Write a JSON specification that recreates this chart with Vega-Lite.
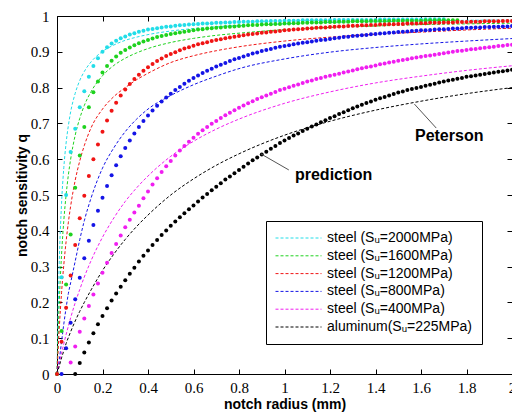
{
  "$schema": "https://vega.github.io/schema/vega-lite/v6.json",
  "width": 455,
  "height": 358,
  "autosize": "none",
  "padding": {"left": 57, "top": 16, "right": 0, "bottom": 40},
  "background": "white",
  "datasets": {
    "dashed": [
      {"r": 0, "c": 0, "g": 0, "rd": 0, "b": 0, "m": 0, "k": 0},
      {"r": 0.01, "c": 0.3125, "g": 0.2, "rd": 0.128, "b": 0.04, "m": 0.03, "k": 0.022},
      {"r": 0.02, "c": 0.476, "g": 0.333, "rd": 0.227, "b": 0.09, "m": 0.058, "k": 0.045},
      {"r": 0.03, "c": 0.577, "g": 0.429, "rd": 0.306, "b": 0.14, "m": 0.085, "k": 0.065},
      {"r": 0.04, "c": 0.645, "g": 0.5, "rd": 0.37, "b": 0.185, "m": 0.11, "k": 0.085},
      {"r": 0.05, "c": 0.694, "g": 0.556, "rd": 0.424, "b": 0.225, "m": 0.134, "k": 0.102},
      {"r": 0.06, "c": 0.732, "g": 0.6, "rd": 0.469, "b": 0.255, "m": 0.157, "k": 0.118},
      {"r": 0.08, "c": 0.784, "g": 0.667, "rd": 0.541, "b": 0.315, "m": 0.199, "k": 0.148},
      {"r": 0.1, "c": 0.82, "g": 0.714, "rd": 0.595, "b": 0.375, "m": 0.236, "k": 0.175},
      {"r": 0.12, "c": 0.845, "g": 0.75, "rd": 0.638, "b": 0.428, "m": 0.271, "k": 0.2},
      {"r": 0.15, "c": 0.872, "g": 0.789, "rd": 0.688, "b": 0.492, "m": 0.317, "k": 0.235},
      {"r": 0.2, "c": 0.901, "g": 0.833, "rd": 0.74, "b": 0.575, "m": 0.382, "k": 0.289},
      {"r": 0.25, "c": 0.919, "g": 0.862, "rd": 0.775, "b": 0.632, "m": 0.436, "k": 0.335},
      {"r": 0.3, "c": 0.932, "g": 0.882, "rd": 0.8, "b": 0.677, "m": 0.482, "k": 0.376},
      {"r": 0.35, "c": 0.941, "g": 0.897, "rd": 0.822, "b": 0.712, "m": 0.52, "k": 0.412},
      {"r": 0.4, "c": 0.948, "g": 0.909, "rd": 0.84, "b": 0.74, "m": 0.553, "k": 0.444},
      {"r": 0.5, "c": 0.958, "g": 0.926, "rd": 0.87, "b": 0.778, "m": 0.608, "k": 0.5},
      {"r": 0.6, "c": 0.965, "g": 0.9375, "rd": 0.889, "b": 0.808, "m": 0.65, "k": 0.545},
      {"r": 0.7, "c": 0.97, "g": 0.946, "rd": 0.903, "b": 0.832, "m": 0.684, "k": 0.583},
      {"r": 0.8, "c": 0.973, "g": 0.952, "rd": 0.914, "b": 0.853, "m": 0.712, "k": 0.615},
      {"r": 1.0, "c": 0.978, "g": 0.962, "rd": 0.93, "b": 0.88, "m": 0.756, "k": 0.667},
      {"r": 1.2, "c": 0.982, "g": 0.968, "rd": 0.941, "b": 0.899, "m": 0.788, "k": 0.706},
      {"r": 1.4, "c": 0.984, "g": 0.972, "rd": 0.949, "b": 0.912, "m": 0.813, "k": 0.737},
      {"r": 1.6, "c": 0.986, "g": 0.976, "rd": 0.955, "b": 0.922, "m": 0.832, "k": 0.762},
      {"r": 1.8, "c": 0.988, "g": 0.978, "rd": 0.961, "b": 0.93, "m": 0.848, "k": 0.783},
      {"r": 2.0, "c": 0.989, "g": 0.98, "rd": 0.966, "b": 0.937, "m": 0.861, "k": 0.8}
    ],
    "dots": [
      {"r": 0, "c": 0, "g": 0, "rd": 0},
      {"r": 0.02, "c": 0.27, "g": 0.12, "rd": 0.09, "b": 0},
      {"r": 0.04, "c": 0.5, "g": 0.25, "rd": 0.185, "b": 0.072},
      {"r": 0.06, "c": 0.62, "g": 0.39, "rd": 0.275, "b": 0.143, "m": 0.032},
      {"r": 0.08, "c": 0.685, "g": 0.52, "rd": 0.36, "b": 0.209, "m": 0.077, "k": 0},
      {"r": 0.1, "c": 0.745, "g": 0.61, "rd": 0.435, "b": 0.269, "m": 0.118, "k": 0.031},
      {"r": 0.12, "c": 0.79, "g": 0.69, "rd": 0.498, "b": 0.323, "m": 0.155, "k": 0.06},
      {"r": 0.14, "c": 0.83, "g": 0.745, "rd": 0.553, "b": 0.372, "m": 0.19, "k": 0.088},
      {"r": 0.16, "c": 0.86, "g": 0.787, "rd": 0.6, "b": 0.416, "m": 0.222, "k": 0.114},
      {"r": 0.18, "c": 0.882, "g": 0.817, "rd": 0.641, "b": 0.456, "m": 0.253, "k": 0.139},
      {"r": 0.2, "c": 0.9, "g": 0.842, "rd": 0.677, "b": 0.492, "m": 0.283, "k": 0.162},
      {"r": 0.22, "c": 0.913, "g": 0.86, "rd": 0.708, "b": 0.525, "m": 0.311, "k": 0.184},
      {"r": 0.24, "c": 0.923, "g": 0.875, "rd": 0.735, "b": 0.555, "m": 0.338, "k": 0.205},
      {"r": 0.26, "c": 0.931, "g": 0.887, "rd": 0.758, "b": 0.583, "m": 0.363, "k": 0.225},
      {"r": 0.28, "c": 0.938, "g": 0.897, "rd": 0.778, "b": 0.608, "m": 0.387, "k": 0.244},
      {"r": 0.3, "c": 0.943, "g": 0.905, "rd": 0.795, "b": 0.631, "m": 0.41, "k": 0.262},
      {"r": 0.32, "c": 0.948, "g": 0.912, "rd": 0.81, "b": 0.652, "m": 0.431, "k": 0.28},
      {"r": 0.34, "c": 0.952, "g": 0.918, "rd": 0.824, "b": 0.672, "m": 0.451, "k": 0.297},
      {"r": 0.36, "c": 0.956, "g": 0.924, "rd": 0.836, "b": 0.69, "m": 0.47, "k": 0.314},
      {"r": 0.38, "c": 0.959, "g": 0.929, "rd": 0.847, "b": 0.707, "m": 0.491, "k": 0.33},
      {"r": 0.4, "c": 0.962, "g": 0.933, "rd": 0.857, "b": 0.722, "m": 0.51, "k": 0.345},
      {"r": 0.42, "c": 0.964, "g": 0.937, "rd": 0.866, "b": 0.736, "m": 0.529, "k": 0.36},
      {"r": 0.44, "c": 0.966, "g": 0.941, "rd": 0.874, "b": 0.749, "m": 0.547, "k": 0.374},
      {"r": 0.46, "c": 0.968, "g": 0.944, "rd": 0.881, "b": 0.761, "m": 0.564, "k": 0.388},
      {"r": 0.48, "c": 0.97, "g": 0.947, "rd": 0.888, "b": 0.772, "m": 0.58, "k": 0.401},
      {"r": 0.5, "c": 0.971, "g": 0.95, "rd": 0.894, "b": 0.783, "m": 0.595, "k": 0.414},
      {"r": 0.52, "c": 0.973, "g": 0.952, "rd": 0.899, "b": 0.793, "m": 0.61, "k": 0.426},
      {"r": 0.54, "c": 0.974, "g": 0.954, "rd": 0.904, "b": 0.802, "m": 0.624, "k": 0.438},
      {"r": 0.56, "c": 0.975, "g": 0.956, "rd": 0.909, "b": 0.811, "m": 0.637, "k": 0.449},
      {"r": 0.58, "c": 0.976, "g": 0.958, "rd": 0.913, "b": 0.819, "m": 0.649, "k": 0.46},
      {"r": 0.6, "c": 0.977, "g": 0.96, "rd": 0.917, "b": 0.827, "m": 0.66, "k": 0.471},
      {"r": 0.62, "c": 0.978, "g": 0.962, "rd": 0.921, "b": 0.834, "m": 0.671, "k": 0.482},
      {"r": 0.64, "c": 0.979, "g": 0.963, "rd": 0.924, "b": 0.841, "m": 0.681, "k": 0.493},
      {"r": 0.66, "c": 0.979, "g": 0.965, "rd": 0.927, "b": 0.847, "m": 0.69, "k": 0.503},
      {"r": 0.68, "c": 0.98, "g": 0.966, "rd": 0.93, "b": 0.853, "m": 0.699, "k": 0.513},
      {"r": 0.7, "c": 0.981, "g": 0.967, "rd": 0.933, "b": 0.859, "m": 0.707, "k": 0.523},
      {"r": 0.72, "c": 0.981, "g": 0.968, "rd": 0.935, "b": 0.864, "m": 0.715, "k": 0.533},
      {"r": 0.74, "c": 0.982, "g": 0.969, "rd": 0.938, "b": 0.869, "m": 0.723, "k": 0.543},
      {"r": 0.76, "c": 0.982, "g": 0.97, "rd": 0.94, "b": 0.874, "m": 0.73, "k": 0.552},
      {"r": 0.78, "c": 0.983, "g": 0.971, "rd": 0.942, "b": 0.879, "m": 0.737, "k": 0.561},
      {"r": 0.8, "c": 0.983, "g": 0.972, "rd": 0.944, "b": 0.883, "m": 0.744, "k": 0.57},
      {"r": 0.82, "c": 0.984, "g": 0.973, "rd": 0.946, "b": 0.887, "m": 0.75, "k": 0.579},
      {"r": 0.84, "c": 0.984, "g": 0.974, "rd": 0.948, "b": 0.891, "m": 0.756, "k": 0.588},
      {"r": 0.86, "c": 0.984, "g": 0.975, "rd": 0.95, "b": 0.895, "m": 0.762, "k": 0.597},
      {"r": 0.88, "c": 0.985, "g": 0.975, "rd": 0.951, "b": 0.898, "m": 0.768, "k": 0.605},
      {"r": 0.9, "c": 0.985, "g": 0.976, "rd": 0.953, "b": 0.902, "m": 0.773, "k": 0.613},
      {"r": 0.92, "c": 0.985, "g": 0.977, "rd": 0.954, "b": 0.905, "m": 0.778, "k": 0.621},
      {"r": 0.94, "c": 0.986, "g": 0.977, "rd": 0.956, "b": 0.908, "m": 0.783, "k": 0.629},
      {"r": 0.96, "c": 0.986, "g": 0.978, "rd": 0.957, "b": 0.911, "m": 0.788, "k": 0.637},
      {"r": 0.98, "c": 0.986, "g": 0.978, "rd": 0.958, "b": 0.914, "m": 0.793, "k": 0.645},
      {"r": 1.0, "c": 0.987, "g": 0.979, "rd": 0.96, "b": 0.916, "m": 0.797, "k": 0.652},
      {"r": 1.02, "c": 0.987, "g": 0.979, "rd": 0.961, "b": 0.918, "m": 0.801, "k": 0.659},
      {"r": 1.04, "c": 0.987, "g": 0.98, "rd": 0.962, "b": 0.921, "m": 0.805, "k": 0.666},
      {"r": 1.06, "c": 0.987, "g": 0.98, "rd": 0.963, "b": 0.923, "m": 0.809, "k": 0.672},
      {"r": 1.08, "c": 0.988, "g": 0.981, "rd": 0.964, "b": 0.925, "m": 0.813, "k": 0.679},
      {"r": 1.1, "c": 0.988, "g": 0.981, "rd": 0.965, "b": 0.927, "m": 0.817, "k": 0.685},
      {"r": 1.12, "c": 0.988, "g": 0.982, "rd": 0.966, "b": 0.929, "m": 0.82, "k": 0.691},
      {"r": 1.14, "c": 0.988, "g": 0.982, "rd": 0.967, "b": 0.931, "m": 0.824, "k": 0.697},
      {"r": 1.16, "c": 0.988, "g": 0.982, "rd": 0.968, "b": 0.933, "m": 0.827, "k": 0.703},
      {"r": 1.18, "c": 0.988, "g": 0.983, "rd": 0.968, "b": 0.934, "m": 0.83, "k": 0.709},
      {"r": 1.2, "c": 0.988, "g": 0.983, "rd": 0.969, "b": 0.936, "m": 0.833, "k": 0.715},
      {"r": 1.22, "c": 0.989, "g": 0.983, "rd": 0.97, "b": 0.938, "m": 0.836, "k": 0.72},
      {"r": 1.24, "c": 0.989, "g": 0.984, "rd": 0.971, "b": 0.939, "m": 0.839, "k": 0.726},
      {"r": 1.26, "c": 0.989, "g": 0.984, "rd": 0.971, "b": 0.941, "m": 0.842, "k": 0.731},
      {"r": 1.28, "c": 0.989, "g": 0.984, "rd": 0.972, "b": 0.942, "m": 0.845, "k": 0.737},
      {"r": 1.3, "c": 0.989, "g": 0.985, "rd": 0.973, "b": 0.944, "m": 0.848, "k": 0.742},
      {"r": 1.32, "c": 0.989, "g": 0.985, "rd": 0.973, "b": 0.945, "m": 0.851, "k": 0.747},
      {"r": 1.34, "c": 0.989, "g": 0.985, "rd": 0.974, "b": 0.946, "m": 0.854, "k": 0.752},
      {"r": 1.36, "c": 0.989, "g": 0.985, "rd": 0.974, "b": 0.947, "m": 0.857, "k": 0.757},
      {"r": 1.38, "c": 0.989, "g": 0.986, "rd": 0.975, "b": 0.949, "m": 0.859, "k": 0.761},
      {"r": 1.4, "c": 0.989, "g": 0.986, "rd": 0.975, "b": 0.95, "m": 0.862, "k": 0.766},
      {"r": 1.42, "c": 0.99, "g": 0.986, "rd": 0.976, "b": 0.951, "m": 0.865, "k": 0.77},
      {"r": 1.44, "c": 0.99, "g": 0.986, "rd": 0.976, "b": 0.952, "m": 0.867, "k": 0.774},
      {"r": 1.46, "c": 0.99, "g": 0.986, "rd": 0.977, "b": 0.953, "m": 0.87, "k": 0.778},
      {"r": 1.48, "c": 0.99, "g": 0.987, "rd": 0.977, "b": 0.954, "m": 0.872, "k": 0.782},
      {"r": 1.5, "c": 0.99, "g": 0.987, "rd": 0.978, "b": 0.955, "m": 0.875, "k": 0.786},
      {"r": 1.52, "c": 0.99, "g": 0.987, "rd": 0.978, "b": 0.956, "m": 0.877, "k": 0.789},
      {"r": 1.54, "c": 0.99, "g": 0.987, "rd": 0.979, "b": 0.957, "m": 0.879, "k": 0.793},
      {"r": 1.56, "c": 0.99, "g": 0.987, "rd": 0.979, "b": 0.958, "m": 0.882, "k": 0.796},
      {"r": 1.58, "c": 0.99, "g": 0.987, "rd": 0.979, "b": 0.959, "m": 0.884, "k": 0.799},
      {"r": 1.6, "c": 0.99, "g": 0.987, "rd": 0.98, "b": 0.96, "m": 0.886, "k": 0.802},
      {"r": 1.62, "c": 0.991, "g": 0.988, "rd": 0.98, "b": 0.96, "m": 0.888, "k": 0.805},
      {"r": 1.64, "c": 0.991, "g": 0.988, "rd": 0.981, "b": 0.961, "m": 0.89, "k": 0.808},
      {"r": 1.66, "c": 0.991, "g": 0.988, "rd": 0.981, "b": 0.962, "m": 0.892, "k": 0.811},
      {"r": 1.68, "c": 0.991, "g": 0.988, "rd": 0.981, "b": 0.963, "m": 0.894, "k": 0.814},
      {"r": 1.7, "c": 0.991, "g": 0.988, "rd": 0.982, "b": 0.963, "m": 0.896, "k": 0.817},
      {"r": 1.72, "g": 0.988, "rd": 0.982, "b": 0.964, "m": 0.898, "k": 0.82},
      {"r": 1.74, "g": 0.988, "rd": 0.982, "b": 0.965, "m": 0.9, "k": 0.822},
      {"r": 1.76, "g": 0.988, "rd": 0.983, "b": 0.965, "m": 0.902, "k": 0.825},
      {"r": 1.78, "rd": 0.983, "b": 0.966, "m": 0.903, "k": 0.827},
      {"r": 1.8, "rd": 0.983, "b": 0.967, "m": 0.905, "k": 0.83},
      {"r": 1.82, "rd": 0.984, "b": 0.967, "m": 0.907, "k": 0.832},
      {"r": 1.84, "rd": 0.984, "b": 0.968, "m": 0.908, "k": 0.834},
      {"r": 1.86, "rd": 0.984, "b": 0.968, "m": 0.91, "k": 0.836},
      {"r": 1.88, "rd": 0.985, "b": 0.969, "m": 0.911, "k": 0.838},
      {"r": 1.9, "rd": 0.985, "b": 0.969, "m": 0.913, "k": 0.84},
      {"r": 1.92, "rd": 0.985, "b": 0.97, "m": 0.914, "k": 0.842},
      {"r": 1.94, "rd": 0.985, "b": 0.97, "m": 0.916, "k": 0.844},
      {"r": 1.96, "rd": 0.986, "b": 0.971, "m": 0.917, "k": 0.846},
      {"r": 1.98, "rd": 0.986, "b": 0.971, "m": 0.919, "k": 0.848},
      {"r": 2.0, "rd": 0.986, "b": 0.972, "m": 0.92, "k": 0.85}
    ],
    "pointers": [
      {"r": 1.667, "q": 0.687, "r2": 1.571, "q2": 0.754},
      {"r": 1.019, "q": 0.57, "r2": 0.896, "q2": 0.615}
    ],
    "notes": [
      {"label": "Peterson", "r": 1.724, "q": 0.665},
      {"label": "prediction", "r": 1.216, "q": 0.556}
    ]
  },
  "layer": [
    {
      "data": {"name": "dashed"},
      "transform": [
        {"fold": ["c", "g", "rd", "b", "m", "k"], "as": ["mat", "q"]},
        {"filter": "isValid(datum.q)"}
      ],
      "mark": {"type": "line", "strokeWidth": 1, "strokeDash": [3, 2], "interpolate": "monotone"},
      "encoding": {
        "x": {
          "field": "r", "type": "quantitative",
          "scale": {"domain": [0, 2], "nice": false, "zero": false},
          "axis": {
            "orient": "bottom", "title": "notch radius (mm)",
            "values": [0, 0.2, 0.4, 0.6, 0.8, 1, 1.2, 1.4, 1.6, 1.8, 2],
            "format": "~g", "labelFlush": false, "labelOverlap": false,
            "labelPadding": 11, "titlePadding": 2
          }
        },
        "y": {
          "field": "q", "type": "quantitative",
          "scale": {"domain": [0, 1], "nice": false},
          "axis": {
            "orient": "left", "title": "notch sensitivity q",
            "values": [0, 0.1, 0.2, 0.3, 0.4, 0.5, 0.6, 0.7, 0.8, 0.9, 1],
            "format": "~g", "labelFlush": false, "labelOverlap": false,
            "labelPadding": 13, "titlePadding": 1
          }
        },
        "color": {
          "field": "mat", "type": "nominal",
          "scale": {
            "domain": ["c", "g", "rd", "b", "m", "k"],
            "range": ["#22dde8", "#1ed21e", "#f01414", "#1414e6", "#f01ef0", "#000000"]
          },
          "legend": {
            "orient": "none", "legendX": 209, "legendY": 205,
            "title": null, "symbolType": "stroke", "symbolDash": [3, 2],
            "symbolStrokeWidth": 1, "symbolSize": 2116, "clipHeight": 16,
            "rowPadding": 1.8, "labelFontSize": 14, "labelFont": "Liberation Sans",
            "labelColor": "#000", "labelOffset": 5, "padding": 9,
            "strokeColor": "#000", "fillColor": "#ffffff",
            "labelExpr": "datum.label == 'c' ? 'steel (Sᵤ=2000MPa)' : datum.label == 'g' ? 'steel (Sᵤ=1600MPa)' : datum.label == 'rd' ? 'steel (Sᵤ=1200MPa)' : datum.label == 'b' ? 'steel (Sᵤ=800MPa)' : datum.label == 'm' ? 'steel (Sᵤ=400MPa)' : 'aluminum(Sᵤ=225MPa)'"
          }
        }
      }
    },
    {
      "data": {"name": "dots"},
      "transform": [
        {"fold": ["c", "g", "rd", "b", "m", "k"], "as": ["mat", "q"]},
        {"filter": "isValid(datum.q)"}
      ],
      "mark": {"type": "point", "filled": true, "shape": "circle", "size": 16, "opacity": 1},
      "encoding": {
        "x": {
          "field": "r", "type": "quantitative",
          "axis": {
            "orient": "top", "title": null, "labels": false,
            "values": [0, 0.2, 0.4, 0.6, 0.8, 1, 1.2, 1.4, 1.6, 1.8, 2]
          }
        },
        "y": {
          "field": "q", "type": "quantitative",
          "axis": {
            "orient": "right", "title": null, "labels": false,
            "values": [0, 0.1, 0.2, 0.3, 0.4, 0.5, 0.6, 0.7, 0.8, 0.9, 1]
          }
        },
        "color": {"field": "mat", "type": "nominal"}
      }
    },
    {
      "data": {"name": "pointers"},
      "mark": {"type": "rule", "color": "#555555", "strokeWidth": 1},
      "encoding": {
        "x": {"field": "r", "type": "quantitative", "axis": null},
        "y": {"field": "q", "type": "quantitative", "axis": null},
        "x2": {"field": "r2"},
        "y2": {"field": "q2"}
      }
    },
    {
      "data": {"name": "notes"},
      "mark": {"type": "text", "font": "Liberation Sans", "fontSize": 16, "fontWeight": "bold", "color": "#000", "align": "center", "baseline": "middle"},
      "encoding": {
        "x": {"field": "r", "type": "quantitative", "axis": null},
        "y": {"field": "q", "type": "quantitative", "axis": null},
        "text": {"field": "label"}
      }
    }
  ],
  "resolve": {"axis": {"x": "independent", "y": "independent"}},
  "config": {
    "view": {"stroke": null},
    "axis": {
      "grid": false, "domainColor": "#000", "domainWidth": 1,
      "tickColor": "#000", "tickSize": -5, "tickWidth": 1,
      "labelColor": "#000", "labelFont": "Liberation Sans Narrow", "labelFontSize": 15,
      "titleFont": "Liberation Sans", "titleFontSize": 14, "titleFontWeight": "bold", "titleColor": "#000"
    }
  }
}
